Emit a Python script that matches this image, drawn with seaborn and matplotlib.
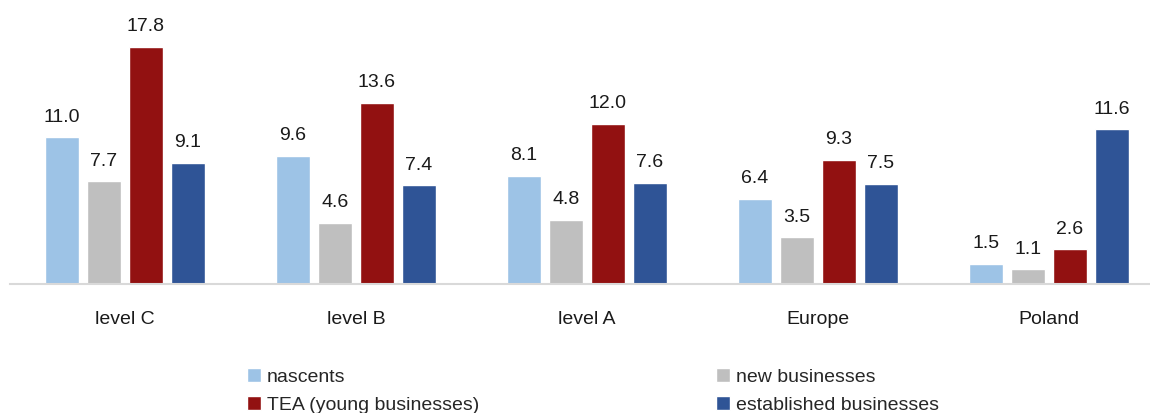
import matplotlib
matplotlib.use("Agg")
import matplotlib.pyplot as plt
import seaborn as sns
import pandas as pd

regions = ["level C", "level B", "level A", "Europe", "Poland"]
series = ["nascents", "new businesses", "TEA (young businesses)", "established businesses"]
nascents = [11.0, 9.6, 8.1, 6.4, 1.5]
new_businesses = [7.7, 4.6, 4.8, 3.5, 1.1]
tea = [17.8, 13.6, 12.0, 9.3, 2.6]
established = [9.1, 7.4, 7.6, 7.5, 11.6]
colors = ["#9DC3E6", "#BFBFBF", "#921111", "#2F5496"]

df = pd.DataFrame({
    "region": regions * 4,
    "series": sum([[s] * len(regions) for s in series], []),
    "value": nascents + new_businesses + tea + established,
})

sns.set_theme(style="white")
plt.rcParams["font.family"] = ["Liberation Sans", "DejaVu Sans"]

W, H = 1150, 413
fig = plt.figure(figsize=(W / 100, H / 100), dpi=100)
base_y = 284
left_px = 9.5
group_px = 231
right_px = 1150
ax = fig.add_axes([left_px / W, (H - base_y) / H, (right_px - left_px) / W, (base_y - 20) / H])

sns.barplot(data=df, x="region", y="value", hue="series", hue_order=series,
            order=regions, palette=colors, width=0.727, gap=0.21, ax=ax,
            saturation=1, legend=True)

ax.set_xlim(-0.5, -0.5 + (right_px - left_px) / group_px)
ax.set_ylim(0, (base_y - 20) / 13.33)
ax.set_xlabel("")
ax.set_ylabel("")
ax.set_yticks([])
for s in ["top", "right", "left"]:
    ax.spines[s].set_visible(False)
ax.spines["bottom"].set_color("#D9D9D9")
ax.spines["bottom"].set_linewidth(1.5)
ax.tick_params(axis="x", length=0, pad=19.5, labelsize=14, labelcolor="#1a1a1a")

for cont in ax.containers:
    ax.bar_label(cont, fmt="%.1f", padding=8.5, fontsize=14, color="#1a1a1a")

handles, labels = ax.get_legend_handles_labels()
ax.legend_.remove()
order = [0, 2, 1, 3]
fig.legend([handles[i] for i in order], [labels[i] for i in order],
           ncol=2, loc="upper left", bbox_to_anchor=(247 / W, 1 - 368 / H),
           frameon=False, fontsize=14, handlelength=0.72, handleheight=0.72,
           handletextpad=0.3, columnspacing=12.2, labelspacing=0.55,
           borderpad=0, borderaxespad=0)

fig.savefig("out.png", dpi=100)
